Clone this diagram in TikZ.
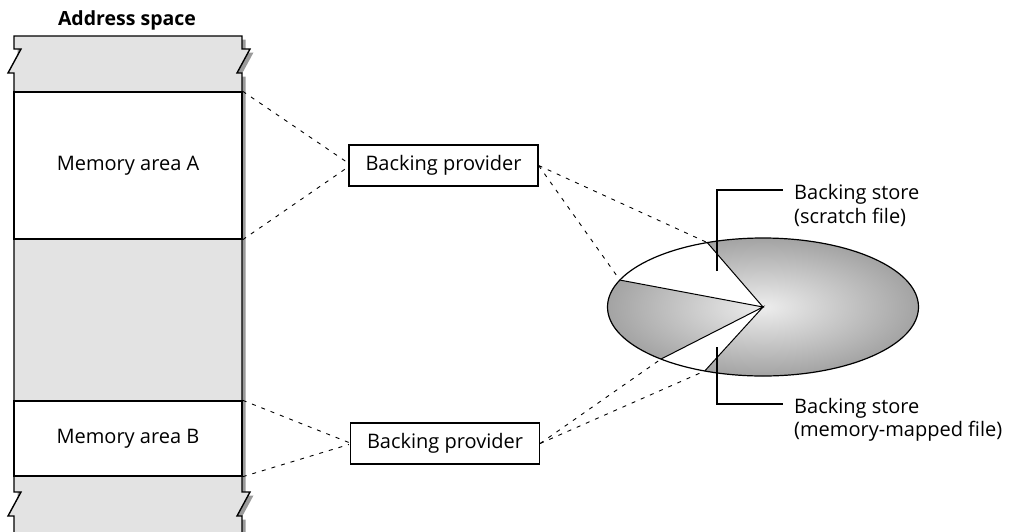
\documentclass[tikz,border=0pt]{standalone}
\usepackage{fontspec}
\setmainfont{Open Sans}
\usetikzlibrary{calc}
\definecolor{bandgray}{HTML}{E3E3E3}
\definecolor{shadowgray}{HTML}{9A9A9A}
\begin{document}
\begin{tikzpicture}[x=1pt,y=-1pt,line join=miter,
  txt/.style={font=\fontsize{20}{24}\selectfont,inner sep=0pt},
  area/.style={draw,line width=1.4pt,fill=white,minimum width=228pt,inner sep=0pt,font=\fontsize{20}{24}\selectfont},
  provider/.style={draw,line width=1.2pt,fill=white,minimum width=189pt,minimum height=41pt,inner sep=0pt,font=\fontsize{20}{24}\selectfont},
  conn/.style={dash pattern=on 4pt off 6pt,line width=0.9pt},
  callout/.style={line width=1.1pt}]
\useasboundingbox (0,0) rectangle (1010,531);
\begin{scope}
\clip (0,0) rectangle (1010,531);
% shadow
\fill[shadowgray,shift={(3.5,3.5)}] (14,36) -- (242,36) -- (242,49) -- (250,49) -- (237,73) -- (242,73) -- (242,492) -- (250,492) -- (237,516) -- (242,516) -- (242,560) -- (14,560) -- cycle;
% column body
\fill[bandgray] (14,36) -- (242,36) -- (242,49) -- (250,49) -- (237,73) -- (242,73) -- (242,492) -- (250,492) -- (237,516) -- (242,516) -- (242,560) -- (14,560) -- (14,516) -- (8,516) -- (21,492) -- (14,492) -- (14,73) -- (8,73) -- (21,49) -- (14,49) -- cycle;
\draw[line width=1.4pt] (14,560) -- (14,516) -- (8,516) -- (21,492) -- (14,492) -- (14,73) -- (8,73) -- (21,49) -- (14,49) -- (14,36) -- (242,36) -- (242,49) -- (250,49) -- (237,73) -- (242,73) -- (242,492) -- (250,492) -- (237,516) -- (242,516) -- (242,560);
\end{scope}
\node[area,minimum height=147pt] (memA) at (128,165.5) {Memory area A};
\node[area,minimum height=75pt] (memB) at (128,438.5) {Memory area B};
\node[font=\fontsize{19.5}{23}\selectfont\bfseries,inner sep=0pt,anchor=base] (title) at (127,25) {Address space};
% providers
\node[provider] (bp1) at (443.5,165.5) {Backing provider};
\node[provider] (bp2) at (445,443.5) {Backing provider};
% store ellipse
\coordinate (C) at (763,307);
\coordinate (p1) at ($(C)+(-111:155.5 and 69)$);
\coordinate (p2) at ($(C)+(-157:155.5 and 69)$);
\coordinate (p3) at ($(C)+(-229:155.5 and 69)$);
\coordinate (p4) at ($(C)+(-248:155.5 and 69)$);
\shade[inner color=gray!14,outer color=gray!72] (C) ellipse [x radius=155.5,y radius=69];
\fill[white] (C) -- (p1) arc[start angle=-111,end angle=-157,x radius=155.5,y radius=69] -- cycle;
\fill[white] (C) -- (p3) arc[start angle=-229,end angle=-248,x radius=155.5,y radius=69] -- cycle;
\draw[line width=1.2pt] (C) ellipse [x radius=155.5,y radius=69];
\draw[line width=1pt] (p1) -- (C) -- (p2) (p3) -- (C) -- (p4);
% dashed connectors
\draw[conn] (memA.north east) -- ($(bp1.west)+(-1,-3)$);
\draw[conn] (memA.south east) -- ($(bp1.west)+(-1,2)$);
\draw[conn] (memB.north east) -- ($(bp2.west)+(-1,-1)$);
\draw[conn] (memB.south east) -- ($(bp2.west)+(-1,1)$);
\draw[conn] (bp1.east) -- (p1);
\draw[conn] (bp1.east) -- (p2);
\draw[conn] (bp2.east) -- (p3);
\draw[conn] (bp2.east) -- (p4);
% labels
\node[txt,anchor=base west] (bs1) at (794,199) {Backing store};
\node[txt,anchor=base west] (bs1b) at (794,223) {(scratch file)};
\node[txt,anchor=base west] (bs2) at (794,413) {Backing store};
\node[txt,anchor=base west] (bs2b) at (794,436) {(memory-mapped file)};
\coordinate (c1) at (717,271);
\coordinate (c2) at (717,347);
\draw[callout] (c1) -- (717,190) -- ($(bs1.west |- 0,190)+(-11,0)$);
\draw[callout] (c2) -- (717,404) -- ($(bs2.west |- 0,404)+(-11,0)$);
\end{tikzpicture}
\end{document}
